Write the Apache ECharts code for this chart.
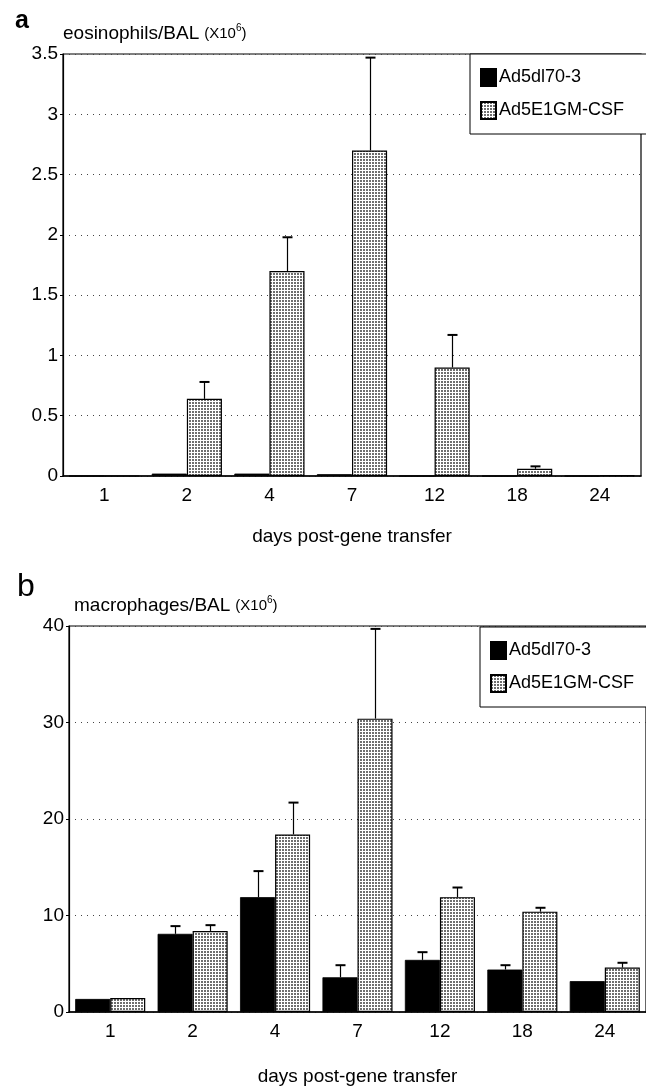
<!DOCTYPE html>
<html>
<head>
<meta charset="utf-8">
<script src="https://cdn.jsdelivr.net/npm/echarts@6/dist/echarts.min.js"></script>
<style>
  html, body { margin: 0; padding: 0; background: #fff; }
  #chart { width: 646px; height: 1087px; }
</style>
</head>
<body>
<div id="chart"></div>
<script>
// days post-gene transfer
var days = ['1', '2', '4', '7', '12', '18', '24'];

// panel a: eosinophils/BAL (x10^6)
var eosCtrl = [0, 0.02, 0.02, 0.015, 0, 0, 0];
var eosGm = [0, 0.64, 1.70, 2.70, 0.90, 0.06, 0.005];
var eosGmErr = [0, 0.14, 0.28, 0.77, 0.27, 0.02, 0];

// panel b: macrophages/BAL (x10^6)
var macCtrl = [1.35, 8.1, 11.9, 3.6, 5.4, 4.4, 3.2];
var macCtrlErr = [0, 0.8, 2.7, 1.25, 0.8, 0.45, 0];
var macGm = [1.45, 8.4, 18.4, 30.4, 11.9, 10.4, 4.6];
var macGmErr = [0, 0.6, 3.3, 9.3, 1.0, 0.4, 0.5];

var FONT = '"Liberation Sans", Arial, sans-serif';
var GAP = 0.15;

// stipple pattern for the Ad5E1GM-CSF bars
var tile = document.createElement('canvas');
tile.width = 3; tile.height = 3;
var tc = tile.getContext('2d');
tc.fillStyle = '#fff';
tc.fillRect(0, 0, 3, 3);
tc.fillStyle = '#6e6e6e';
tc.fillRect(0, 0, 2, 2);
var dots = { image: tile, repeat: 'repeat' };

function errData(vals, errs) {
    var out = [];
    for (var i = 0; i < vals.length; i++) {
        if (errs[i] > 0) out.push([i, vals[i], vals[i] + errs[i]]);
    }
    return out;
}

// side: -1 left bar (control), +1 right bar (GM-CSF)
function errRender(side) {
    return function (params, api) {
        var base = api.coord([api.value(0), api.value(1)]);
        var top = api.coord([api.value(0), api.value(2)]);
        var band = api.size([1, 0])[0];
        var bw = band * (1 - GAP) / 2;
        var cx = Math.round(base[0] + side * bw / 2) + 0.5;
        var cap = 5;
        return {
            type: 'group',
            children: [
                { type: 'line', shape: { x1: cx, y1: base[1], x2: cx, y2: top[1] }, style: { stroke: '#000', lineWidth: 1.2 } },
                { type: 'line', shape: { x1: cx - cap, y1: top[1], x2: cx + cap, y2: top[1] }, style: { stroke: '#000', lineWidth: 2 } }
            ]
        };
    };
}

function xAxis(idx) {
    return {
        type: 'category',
        gridIndex: idx,
        data: days,
        name: 'days post-gene transfer',
        nameLocation: 'middle',
        nameGap: idx === 0 ? 51 : 55,
        nameTextStyle: { fontFamily: FONT, fontSize: 19, color: '#000' },
        axisLine: { lineStyle: { color: '#000', width: 1.5 } },
        axisTick: { show: false },
        axisLabel: { fontFamily: FONT, fontSize: 19, color: '#000', margin: 10 }
    };
}

function yAxis(idx, max, step) {
    return {
        type: 'value',
        gridIndex: idx,
        min: 0,
        max: max,
        interval: step,
        axisLine: { show: true, lineStyle: { color: '#000', width: 1.2 } },
        axisTick: { show: true, length: 3, lineStyle: { color: '#000' } },
        axisLabel: { fontFamily: FONT, fontSize: 19, color: '#000', margin: 5 },
        splitLine: { show: true, lineStyle: { color: '#444', width: 1, type: [1, 5] } }
    };
}

function legend(left, top) {
    return {
        orient: 'vertical',
        left: left,
        top: top,
        width: 180,
        padding: [14, 40, 14, 10],
        itemGap: 14,
        itemWidth: 15,
        itemHeight: 17,
        icon: 'rect',
        backgroundColor: '#fff',
        borderColor: '#000',
        borderWidth: 1,
        textStyle: { fontFamily: FONT, fontSize: 18, color: '#000', padding: [0, 0, 0, -2] },
        data: ['Ad5dl70-3', 'Ad5E1GM-CSF']
    };
}

function panelTitle(letter, letterStyle, text, lx, ly, tx, ty) {
    return [
        {
            left: lx, top: ly, text: letter,
            textStyle: letterStyle
        },
        {
            left: tx, top: ty,
            text: '{m|' + text + '} {s|(X10}{sup|6}{s|)}',
            textStyle: {
                fontWeight: 'normal',
                rich: {
                    m: { fontFamily: FONT, fontSize: 19, fontWeight: 'normal', color: '#000', lineHeight: 22 },
                    s: { fontFamily: FONT, fontSize: 15, fontWeight: 'normal', color: '#000', lineHeight: 22 },
                    sup: { fontFamily: FONT, fontSize: 10, fontWeight: 'normal', color: '#000', verticalAlign: 'top', lineHeight: 12 }
                }
            }
        }
    ];
}

var chart = echarts.init(document.getElementById('chart'), null, { renderer: 'canvas' });

var option = {
    backgroundColor: '#fff',
    animation: false,
    title: panelTitle('a', { fontFamily: FONT, fontSize: 25, fontWeight: 'bold', color: '#000' },
            'eosinophils/BAL', 10, 4, 58, 18)
        .concat(panelTitle('b', { fontFamily: FONT, fontSize: 32, fontWeight: 'normal', color: '#000' },
            'macrophages/BAL', 12, 566, 69, 590)),
    legend: [legend(470, 54), legend(480, 627)],
    grid: [
        { left: 63, top: 54, width: 578, height: 422, show: true, borderColor: '#000', borderWidth: 1.2, backgroundColor: 'transparent' },
        { left: 69, top: 626, width: 584, height: 396, show: true, borderColor: '#000', borderWidth: 1.2, backgroundColor: 'transparent' }
    ],
    xAxis: [xAxis(0), xAxis(1)],
    yAxis: [yAxis(0, 3.5, 0.5), yAxis(1, 40, 10)],
    series: [
        {
            name: 'Ad5dl70-3', type: 'bar', xAxisIndex: 0, yAxisIndex: 0,
            data: eosCtrl, barGap: 0, barCategoryGap: (GAP * 100) + '%',
            itemStyle: { color: '#000', borderColor: '#000', borderWidth: 0.8 }
        },
        {
            name: 'Ad5E1GM-CSF', type: 'bar', xAxisIndex: 0, yAxisIndex: 0,
            data: eosGm, barGap: 0, barCategoryGap: (GAP * 100) + '%',
            itemStyle: { color: dots, borderColor: '#000', borderWidth: 1.2 }
        },
        {
            type: 'custom', xAxisIndex: 0, yAxisIndex: 0, z: 5,
            renderItem: errRender(1), data: errData(eosGm, eosGmErr)
        },
        {
            name: 'Ad5dl70-3', type: 'bar', xAxisIndex: 1, yAxisIndex: 1,
            data: macCtrl, barGap: 0, barCategoryGap: (GAP * 100) + '%',
            itemStyle: { color: '#000', borderColor: '#000', borderWidth: 0.8 }
        },
        {
            name: 'Ad5E1GM-CSF', type: 'bar', xAxisIndex: 1, yAxisIndex: 1,
            data: macGm, barGap: 0, barCategoryGap: (GAP * 100) + '%',
            itemStyle: { color: dots, borderColor: '#000', borderWidth: 1.2 }
        },
        {
            type: 'custom', xAxisIndex: 1, yAxisIndex: 1, z: 5,
            renderItem: errRender(-1), data: errData(macCtrl, macCtrlErr)
        },
        {
            type: 'custom', xAxisIndex: 1, yAxisIndex: 1, z: 5,
            renderItem: errRender(1), data: errData(macGm, macGmErr)
        }
    ]
};

chart.setOption(option);
</script>
</body>
</html>
